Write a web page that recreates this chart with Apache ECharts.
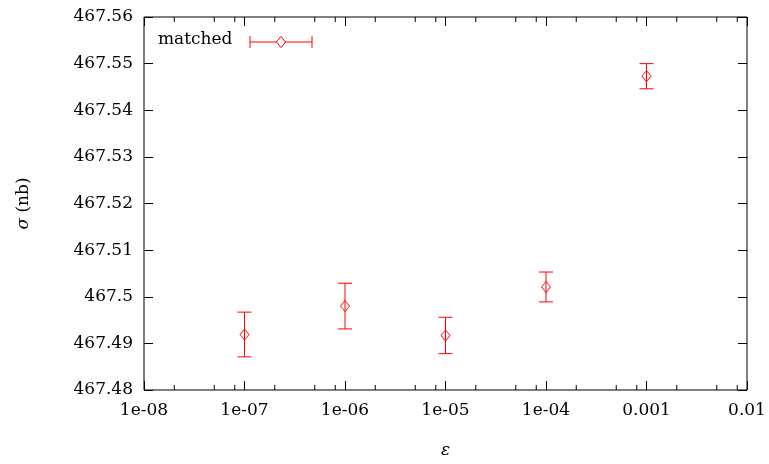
<!DOCTYPE html>
<html>
<head>
<meta charset="utf-8">
<script src="https://cdn.jsdelivr.net/npm/echarts@6/dist/echarts.min.js"></script>
<style>
  html, body { margin: 0; padding: 0; background: #fff; }
  #chart { width: 769px; height: 464px; }
</style>
</head>
<body>
<div id="chart"></div>
<script>
// 数据
var eps = [1e-7, 1e-6, 1e-5, 1e-4, 1e-3];
var sigma = [467.4919, 467.4980, 467.4917, 467.5021, 467.5473];
var sigmaErr = [0.0048, 0.0049, 0.0039, 0.0032, 0.0027];

var xTickValues = [1e-8, 1e-7, 1e-6, 1e-5, 1e-4, 1e-3, 1e-2];
var xTickLabels = ['1e-08', '1e-07', '1e-06', '1e-05', '1e-04', '0.001', '0.01'];
var minorSteps = [2, 5, 8];

var FONT = '"DejaVu Serif", serif';
var FS = 17;
var RED = '#ff0000';

// 次刻度位置
var minorTicks = [];
for (var i = 0; i < xTickValues.length - 1; i++) {
    minorSteps.forEach(function(m){ minorTicks.push([xTickValues[i] * m]); });
}

function xLabel(v){
    var k = Math.round(Math.log10(v)) + 8;
    return xTickLabels[k] || '';
}

var myChart = echarts.init(document.getElementById('chart'));

var logAxis = {
    type: 'log',
    logBase: 10,
    min: 1e-8,
    max: 1e-2,
    interval: 1,
    axisLine: { show: false },
    splitLine: { show: false },
    axisTick: { inside: true, length: 9, lineStyle: { color: '#000', width: 1 } }
};
var valAxis = {
    type: 'value',
    min: 467.48,
    max: 467.56,
    interval: 0.01,
    axisLine: { show: false },
    splitLine: { show: false },
    axisTick: { inside: true, length: 9, lineStyle: { color: '#000', width: 1 } }
};

var option = {
    animation: false,
    textStyle: { fontFamily: FONT },
    grid: {
        show: true,
        left: 144, right: 22, top: 17, bottom: 74,
        outerBoundsMode: 'none',
        containLabel: false,
        borderColor: '#000', borderWidth: 1,
        backgroundColor: 'transparent'
    },
    xAxis: [
        echarts.util.merge({
            position: 'bottom',
            name: 'ε',
            nameLocation: 'middle',
            nameGap: 52,
            nameTextStyle: { fontFamily: FONT, fontSize: FS, fontStyle: 'italic', color: '#000' },
            axisLabel: {
                fontFamily: FONT, fontSize: FS, color: '#000', margin: 12,
                formatter: xLabel
            }
        }, logAxis, true),
        echarts.util.merge({
            position: 'top',
            axisLabel: { show: false }
        }, logAxis, true)
    ],
    yAxis: [
        echarts.util.merge({
            position: 'left',
            name: '{i|σ} (nb)',
            nameLocation: 'middle',
            nameRotate: 90,
            nameGap: 112,
            nameTextStyle: {
                fontFamily: FONT, fontSize: FS, color: '#000',
                rich: { i: { fontFamily: FONT, fontSize: FS, fontStyle: 'italic', color: '#000' } }
            },
            axisLabel: {
                fontFamily: FONT, fontSize: FS, color: '#000', margin: 11,
                formatter: function(v){ return String(+v.toFixed(2)); }
            }
        }, valAxis, true),
        echarts.util.merge({
            position: 'right',
            axisLabel: { show: false }
        }, valAxis, true)
    ],
    graphic: [{
        type: 'group',
        left: 158,
        top: 31,
        silent: true,
        children: [
            { type: 'text', left: 0, top: 0,
              style: { text: 'matched', font: FS + 'px ' + FONT, fill: '#000' } },
            { type: 'line', shape: { x1: 92, y1: 11, x2: 154, y2: 11 }, style: { stroke: RED, lineWidth: 1 } },
            { type: 'line', shape: { x1: 92, y1: 5, x2: 92, y2: 17 }, style: { stroke: RED, lineWidth: 1 } },
            { type: 'line', shape: { x1: 154, y1: 5, x2: 154, y2: 17 }, style: { stroke: RED, lineWidth: 1 } },
            { type: 'polygon', shape: { points: [[123, 5.5], [127.5, 11], [123, 16.5], [118.5, 11]] },
              style: { stroke: RED, fill: '#fff', lineWidth: 1 } }
        ]
    }],
    series: [
        {
            // 次刻度
            type: 'custom',
            silent: true,
            xAxisIndex: 0,
            yAxisIndex: 0,
            clip: false,
            data: minorTicks,
            renderItem: function(params, api){
                var cs = params.coordSys;
                var px = api.coord([api.value(0), 467.5])[0];
                var st = { stroke: '#000', lineWidth: 1 };
                return {
                    type: 'group',
                    children: [
                        { type: 'line', shape: { x1: px, y1: cs.y + cs.height, x2: px, y2: cs.y + cs.height - 5 }, style: st },
                        { type: 'line', shape: { x1: px, y1: cs.y, x2: px, y2: cs.y + 5 }, style: st }
                    ]
                };
            }
        },
        {
            // 误差棒
            type: 'custom',
            name: 'matched',
            silent: true,
            data: eps.map(function(x, i){ return [x, sigma[i] - sigmaErr[i], sigma[i] + sigmaErr[i]]; }),
            renderItem: function(params, api){
                var lo = api.coord([api.value(0), api.value(1)]);
                var hi = api.coord([api.value(0), api.value(2)]);
                var w = 7;
                var st = { stroke: RED, lineWidth: 1 };
                return {
                    type: 'group',
                    children: [
                        { type: 'line', shape: { x1: lo[0], y1: lo[1], x2: hi[0], y2: hi[1] }, style: st },
                        { type: 'line', shape: { x1: lo[0] - w, y1: lo[1], x2: lo[0] + w, y2: lo[1] }, style: st },
                        { type: 'line', shape: { x1: hi[0] - w, y1: hi[1], x2: hi[0] + w, y2: hi[1] }, style: st }
                    ]
                };
            }
        },
        {
            type: 'scatter',
            name: 'matched',
            symbol: 'diamond',
            symbolSize: [9, 11],
            itemStyle: { color: 'transparent', borderColor: RED, borderWidth: 1 },
            data: eps.map(function(x, i){ return [x, sigma[i]]; })
        }
    ]
};

myChart.setOption(option);
</script>
</body>
</html>
